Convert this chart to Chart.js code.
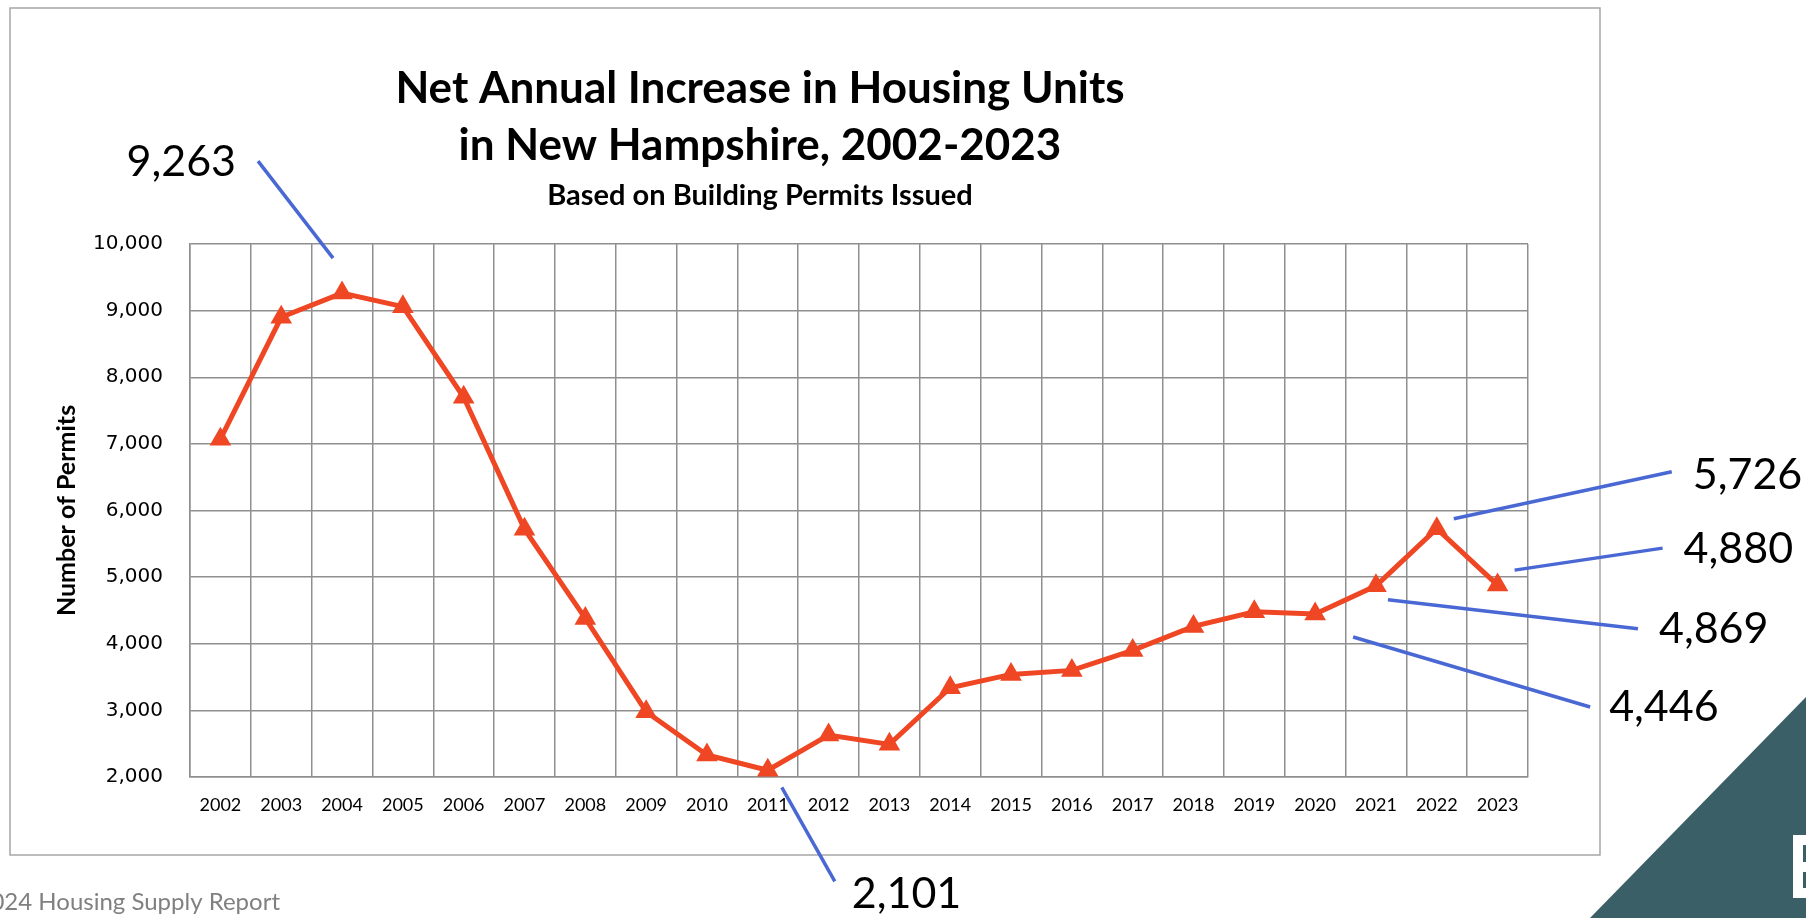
<!DOCTYPE html>
<html>
<head>
<meta charset="utf-8">
<script src="https://cdn.jsdelivr.net/npm/chart.js@4.4.1/dist/chart.umd.min.js"></script>
<style>
  html, body { margin: 0; padding: 0; background: #fff; }
  canvas { display: block; }
</style>
</head>
<body>
<canvas id="permitsChart" width="1806" height="918"></canvas>
<script>
// data
const years = ['2002', '2003', '2004', '2005', '2006', '2007', '2008', '2009', '2010', '2011', '2012',
               '2013', '2014', '2015', '2016', '2017', '2018', '2019', '2020', '2021', '2022', '2023'];
const permits = [7070, 8900, 9263, 9060, 7700, 5720, 4380, 2980, 2330, 2101, 2630,
                 2490, 3340, 3540, 3600, 3900, 4260, 4480, 4446, 4869, 5726, 4880];
const yMin = 2000;
const yMax = 10000;
const yStep = 1000;
const calloutYears = ['2004', '2011', '2020', '2021', '2022', '2023'];

const titleLines = ['Net Annual Increase in Housing Units', 'in New Hampshire, 2002-2023'];
const subtitle = 'Based on Building Permits Issued';
const yTitle = 'Number of Permits';
const footer = '2024 Housing Supply Report';

// leader line / label placement, relative to the point
const calloutLayout = {
    '2004': { from: [-9, -35], to: [-84, -132], label: [-106, -131], align: 'right' },
    '2011': { from: [14, 17], to: [67, 111], label: [84, 124], align: 'left' },
    '2020': { from: [38, 23], to: [275, 93], label: [294, 93], align: 'left' },
    '2021': { from: [12, 14], to: [262, 43], label: [283, 43], align: 'left' },
    '2022': { from: [17, -10], to: [235, -57], label: [256, -54], align: 'left' },
    '2023': { from: [17, -15], to: [165, -37], label: [186, -36], align: 'left' }
};

const fmt = v => Number(v).toLocaleString('en-US');

const decorations = {
    id: 'decorations',
    beforeDraw(chart) {
        const ctx = chart.ctx;
        ctx.save();
        ctx.fillStyle = '#fff';
        ctx.fillRect(0, 0, chart.width, chart.height);
        // outer frame
        ctx.strokeStyle = '#a6a6a6';
        ctx.lineWidth = 1.5;
        ctx.strokeRect(10, 8, 1590, 847);
        ctx.restore();
    },
    afterDraw(chart) {
        const ctx = chart.ctx;
        const meta = chart.getDatasetMeta(0);
        ctx.save();

        // titles
        ctx.fillStyle = '#000';
        ctx.textAlign = 'center';
        ctx.textBaseline = 'middle';
        ctx.font = 'bold 44px Lato';
        ctx.fillText(titleLines[0], 760, 89);
        ctx.fillText(titleLines[1], 760, 146);
        ctx.font = 'bold 29px Lato';
        ctx.fillText(subtitle, 760, 196);

        // y axis title
        ctx.save();
        ctx.translate(67, (chart.chartArea.top + chart.chartArea.bottom) / 2);
        ctx.rotate(-Math.PI / 2);
        ctx.font = 'bold 25px Lato';
        ctx.fillText(yTitle, 0, 0);
        ctx.restore();

        // callouts
        calloutYears.forEach(yr => {
            const i = years.indexOf(yr);
            const pt = meta.data[i];
            const c = calloutLayout[yr];
            ctx.strokeStyle = '#4a68d4';
            ctx.lineWidth = 3.5;
            ctx.beginPath();
            ctx.moveTo(pt.x + c.from[0], pt.y + c.from[1]);
            ctx.lineTo(pt.x + c.to[0], pt.y + c.to[1]);
            ctx.stroke();
            ctx.fillStyle = '#000';
            ctx.font = '43px Lato';
            ctx.textAlign = c.align;
            ctx.textBaseline = 'middle';
            ctx.fillText(fmt(permits[i]), pt.x + c.label[0], pt.y + c.label[1]);
        });

        // footer text, cut at the left edge like the slide
        ctx.fillStyle = '#808080';
        ctx.font = '24px Lato';
        ctx.textAlign = 'right';
        ctx.fillText(footer, 280, 902);

        // slide corner
        ctx.fillStyle = '#3b5f66';
        ctx.beginPath();
        ctx.moveTo(1590, 918);
        ctx.lineTo(1806, 697);
        ctx.lineTo(1806, 918);
        ctx.closePath();
        ctx.fill();
        ctx.fillStyle = '#fff';
        ctx.fillRect(1793, 835, 13, 63);
        ctx.fillStyle = '#3b5f66';
        ctx.fillRect(1803, 845, 3, 17);
        ctx.fillRect(1803, 872, 3, 16);
        ctx.restore();
    }
};

new Chart(document.getElementById('permitsChart'), {
    type: 'line',
    data: {
        labels: years,
        datasets: [{
            label: 'Net new housing units',
            data: permits,
            borderColor: '#ef4623',
            backgroundColor: '#ef4623',
            borderWidth: 5,
            pointStyle: 'triangle',
            pointRadius: 12.5,
            pointBorderWidth: 0,
            tension: 0
        }]
    },
    options: {
        responsive: false,
        animation: false,
        layout: { padding: { top: 244, right: 278, left: 10, bottom: 0 } },
        plugins: {
            legend: { display: false },
            title: { display: false },
            tooltip: { enabled: false }
        },
        scales: {
            x: {
                offset: true,
                grid: { offset: true, color: '#8f8f8f', lineWidth: 1.5, drawTicks: false },
                border: { color: '#8f8f8f', width: 1.5 },
                ticks: { color: '#000', padding: 17, font: { family: 'Lato', size: 18 }, maxRotation: 0 },
                afterFit(scale) { scale.height = 141; }
            },
            y: {
                min: yMin,
                max: yMax,
                grid: { color: '#8f8f8f', lineWidth: 1.5, drawTicks: false },
                border: { color: '#8f8f8f', width: 1.5 },
                ticks: {
                    stepSize: yStep,
                    color: '#000',
                    padding: 27,
                    font: { family: 'DejaVu Sans', size: 20 },
                    callback: v => fmt(v)
                },
                afterFit(scale) { scale.width = 180; }
            }
        }
    },
    plugins: [decorations]
});
</script>
</body>
</html>
